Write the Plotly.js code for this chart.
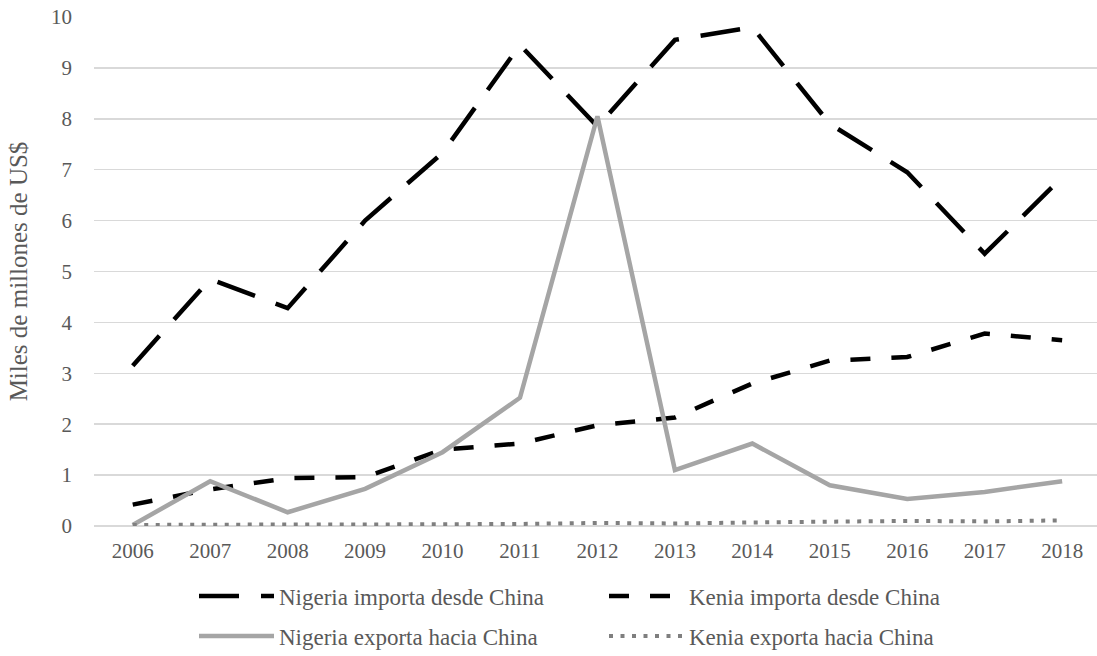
<!DOCTYPE html>
<html>
<head>
<meta charset="utf-8">
<script src="https://cdn.plot.ly/plotly-3.0.1.min.js"></script>
<style>html,body{margin:0;padding:0;background:#fff;}#chart{width:1097px;height:656px;}</style>
</head>
<body>
<div id="chart"></div>
<script>
const years = ['2006','2007','2008','2009','2010','2011','2012','2013','2014','2015','2016','2017','2018'];
const nigeriaImporta = [3.15, 4.85, 4.28, 6.0, 7.33, 9.45, 7.85, 9.55, 9.8, 7.9, 6.95, 5.35, 6.85];
const keniaImporta = [0.42, 0.72, 0.94, 0.96, 1.5, 1.62, 1.98, 2.13, 2.8, 3.25, 3.32, 3.78, 3.65];
const nigeriaExporta = [0.02, 0.88, 0.27, 0.73, 1.45, 2.52, 8.05, 1.1, 1.62, 0.8, 0.53, 0.67, 0.88];
const keniaExporta = [0.02, 0.03, 0.03, 0.03, 0.03, 0.04, 0.06, 0.05, 0.07, 0.08, 0.1, 0.09, 0.11];
const seriesNames = ['Nigeria importa desde China', 'Kenia importa desde China', 'Nigeria exporta hacia China', 'Kenia exporta hacia China'];

const FONT = '"Liberation Serif", "Times New Roman", serif';
const traces = [
  {x: years, y: nigeriaImporta, name: seriesNames[0], type: 'scatter', mode: 'lines', legend: 'legend',
   line: {color: '#000000', width: 4.5, dash: '40px,22px'}},
  {x: years, y: keniaImporta, name: seriesNames[1], type: 'scatter', mode: 'lines', legend: 'legend',
   line: {color: '#000000', width: 4.5, dash: '20px,21px'}},
  {x: years, y: nigeriaExporta, name: seriesNames[2], type: 'scatter', mode: 'lines', legend: 'legend2',
   line: {color: '#a5a5a5', width: 4.5}},
  {x: years, y: keniaExporta, name: seriesNames[3], type: 'scatter', mode: 'lines', legend: 'legend2',
   line: {color: '#7f7f7f', width: 4, dash: '4px,7.5px'}}
];

const legendBase = {
  orientation: 'h', xref: 'container', yref: 'container', xanchor: 'left', yanchor: 'middle',
  x: 194 / 1097,
  entrywidth: 320, entrywidthmode: 'pixels', itemwidth: 75,
  font: {family: FONT, size: 23, color: '#595959'},
  bgcolor: 'rgba(0,0,0,0)', borderwidth: 0
};

const layout = {
  width: 1097, height: 656,
  margin: {l: 94, r: 0, t: 17, b: 130},
  paper_bgcolor: '#ffffff', plot_bgcolor: '#ffffff',
  font: {family: FONT, color: '#595959', size: 21},
  showlegend: true,
  xaxis: {
    type: 'category', range: [-0.5, 12.45],
    showgrid: false, zeroline: false, showline: false, ticks: '',
    tickfont: {family: FONT, size: 21, color: '#595959'},
    ticklabelstandoff: 10, fixedrange: true
  },
  yaxis: {
    range: [0, 10], dtick: 1, tick0: 0,
    showgrid: true, gridcolor: '#d9d9d9', gridwidth: 1.5,
    zeroline: true, zerolinecolor: '#d9d9d9', zerolinewidth: 1.5,
    showline: false, ticks: '',
    tickfont: {family: FONT, size: 21, color: '#595959'},
    ticklabelstandoff: 21,
    title: {text: 'Miles de millones de US$', font: {family: FONT, size: 25, color: '#595959'}, standoff: 16},
    automargin: true, fixedrange: true
  },
  legend: Object.assign({}, legendBase, {y: 1 - 596 / 656}),
  legend2: Object.assign({}, legendBase, {y: 1 - 636 / 656})
};

Plotly.newPlot('chart', traces, layout, {displayModeBar: false, staticPlot: true});
</script>
</body>
</html>
